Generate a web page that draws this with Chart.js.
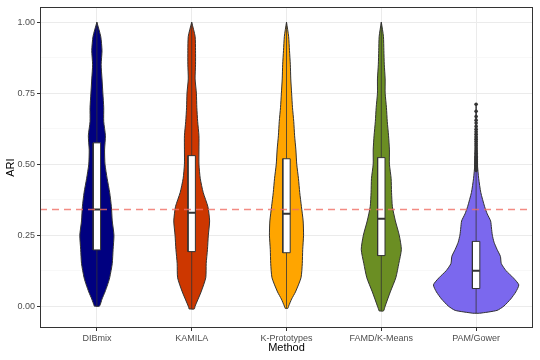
<!DOCTYPE html>
<html>
<head>
<meta charset="utf-8">
<title>ARI by method</title>
<script src="https://cdn.jsdelivr.net/npm/chart.js@4.4.0/dist/chart.umd.min.js"></script>
<style>
  html, body { margin: 0; padding: 0; background: #fff; }
</style>
</head>
<body>
<canvas id="chart" width="540" height="360"></canvas>
<script>
// Categories and colours
const methods = ['DIBmix', 'KAMILA', 'K-Prototypes', 'FAMD/K-Means', 'PAM/Gower'];
const fillColors = ['#000080', '#CD3700', '#FFA500', '#6B8E23', '#7B68EE'];

// Violin outlines: ARI levels and relative density (1 = widest violin)
const dibmixLevels = [0, 0.025, 0.05, 0.075, 0.1, 0.15, 0.2, 0.25, 0.3, 0.35, 0.4, 0.45, 0.5, 0.55, 0.6, 0.65, 0.7, 0.75, 0.8, 0.85, 0.9, 0.95, 1];
const dibmixDensity = [0.06, 0.12, 0.19, 0.25, 0.30, 0.36, 0.38, 0.40, 0.36, 0.34, 0.30, 0.24, 0.19, 0.18, 0.20, 0.16, 0.16, 0.14, 0.12, 0.10, 0.12, 0.09, 0];

const kamilaLevels = [-0.01, 0, 0.05, 0.1, 0.15, 0.2, 0.25, 0.3, 0.35, 0.4, 0.45, 0.5, 0.55, 0.6, 0.65, 0.7, 0.75, 0.8, 0.85, 0.9, 0.95, 1];
const kamilaDensity = [0.06, 0.08, 0.22, 0.33, 0.34, 0.37, 0.39, 0.42, 0.38, 0.27, 0.20, 0.17, 0.17, 0.17, 0.14, 0.12, 0.11, 0.08, 0.09, 0.09, 0.08, 0];

const kprotoLevels = [-0.008, 0, 0.025, 0.05, 0.1, 0.15, 0.2, 0.25, 0.3, 0.35, 0.4, 0.45, 0.5, 0.55, 0.6, 0.65, 0.7, 0.75, 0.8, 0.85, 0.9, 0.95, 1];
const kprotoDensity = [0.03, 0.05, 0.12, 0.21, 0.34, 0.37, 0.38, 0.40, 0.39, 0.35, 0.31, 0.28, 0.24, 0.22, 0.19, 0.17, 0.14, 0.12, 0.10, 0.09, 0.07, 0.05, 0];

const famdLevels = [-0.017, 0, 0.05, 0.1, 0.15, 0.2, 0.25, 0.3, 0.35, 0.4, 0.45, 0.5, 0.55, 0.6, 0.65, 0.7, 0.75, 0.8, 0.85, 0.9, 0.95, 1];
const famdDensity = [0.05, 0.09, 0.21, 0.34, 0.41, 0.47, 0.42, 0.33, 0.26, 0.24, 0.23, 0.19, 0.19, 0.17, 0.14, 0.12, 0.09, 0.09, 0.07, 0.06, 0.05, 0];

const pamLevels = [-0.025, -0.015, 0, 0.025, 0.05, 0.075, 0.1, 0.125, 0.15, 0.175, 0.2, 0.225, 0.25, 0.275, 0.3, 0.325, 0.35, 0.4, 0.45, 0.5, 0.55, 0.6, 0.65, 0.71];
const pamDensity = [0.08, 0.49, 0.65, 0.81, 0.93, 1.0, 0.87, 0.70, 0.59, 0.57, 0.49, 0.42, 0.38, 0.36, 0.34, 0.26, 0.20, 0.11, 0.06, 0.03, 0.02, 0.02, 0.01, 0];

// Boxplot statistics per method
const whiskerLow = [0, -0.01, -0.008, -0.017, -0.025];
const quartile1 = [0.198, 0.192, 0.188, 0.178, 0.062];
const medians = [0.34, 0.329, 0.325, 0.308, 0.125];
const quartile3 = [0.575, 0.530, 0.519, 0.523, 0.228];
const whiskerHigh = [1, 1, 1, 1, 0.476];

// PAM/Gower outliers
const pamOutliers = [0.478, 0.483, 0.488, 0.492, 0.496, 0.5, 0.503, 0.506, 0.51, 0.513, 0.517, 0.52, 0.524,
  0.528, 0.533, 0.538, 0.544, 0.55, 0.557, 0.565, 0.572, 0.58, 0.588, 0.596, 0.605, 0.614, 0.623,
  0.633, 0.645, 0.655, 0.668, 0.686, 0.711];

// Reference line
const referenceAri = 0.34;

const violinLevels = [dibmixLevels, kamilaLevels, kprotoLevels, famdLevels, pamLevels];
const violinDensity = [dibmixDensity, kamilaDensity, kprotoDensity, famdDensity, pamDensity];

const VIOLIN_HALF = 0.45;
const BOX_HALF = 0.039;
const INK = '#333333';
const FONT = "'Liberation Sans', Arial, sans-serif";

Chart.defaults.font.family = FONT;

function violinOutline(center, levels, density) {
  const left = levels.map((y, i) => ({ x: center - density[i] * VIOLIN_HALF, y }));
  const right = levels.map((y, i) => ({ x: center + density[i] * VIOLIN_HALF, y })).reverse();
  const pts = left.concat(right);
  pts.push(pts[0]);
  return pts;
}

const datasets = [];

methods.forEach((m, i) => {
  const c = i + 1;
  datasets.push({
    data: violinOutline(c, violinLevels[i], violinDensity[i]),
    showLine: true, fill: 'shape', tension: 0.2,
    backgroundColor: fillColors[i], borderColor: INK, borderWidth: 1,
    pointRadius: 0, order: 6
  });
  datasets.push({
    data: [{ x: c, y: whiskerLow[i] }, { x: c, y: whiskerHigh[i] }],
    showLine: true, fill: false, borderColor: INK, borderWidth: 0.8,
    pointRadius: 0, order: 5
  });
  datasets.push({
    data: [
      { x: c - BOX_HALF, y: quartile1[i] }, { x: c + BOX_HALF, y: quartile1[i] },
      { x: c + BOX_HALF, y: quartile3[i] }, { x: c - BOX_HALF, y: quartile3[i] },
      { x: c - BOX_HALF, y: quartile1[i] }
    ],
    showLine: true, fill: 'shape', tension: 0,
    backgroundColor: '#FFFFFF', borderColor: INK, borderWidth: 1,
    pointRadius: 0, order: 4
  });
  datasets.push({
    data: [{ x: c - BOX_HALF, y: medians[i] }, { x: c + BOX_HALF, y: medians[i] }],
    showLine: true, fill: false, borderColor: INK, borderWidth: 2,
    pointRadius: 0, order: 3
  });
});

datasets.push({
  data: pamOutliers.map(v => ({ x: 5, y: v })),
  showLine: false, pointRadius: 1.8, pointBackgroundColor: INK, pointBorderWidth: 0,
  order: 2
});

datasets.push({
  data: [{ x: 0.4, y: referenceAri }, { x: 5.6, y: referenceAri }],
  showLine: true, fill: false, borderColor: 'rgba(240,110,100,0.8)', borderWidth: 1.5,
  borderDash: [7, 5], pointRadius: 0, order: 1
});

const isMajor = v => Math.abs(v * 4 - Math.round(v * 4)) < 1e-6;

// white background + panel border like theme_bw
const panelPlugin = {
  id: 'panel',
  beforeDraw(chart) {
    const ctx = chart.ctx;
    ctx.save();
    ctx.fillStyle = '#fff';
    ctx.fillRect(0, 0, chart.width, chart.height);
    ctx.restore();
  },
  afterDraw(chart) {
    const { left, top, right, bottom } = chart.chartArea;
    const ctx = chart.ctx;
    ctx.save();
    ctx.strokeStyle = INK;
    ctx.lineWidth = 1;
    ctx.strokeRect(Math.round(left) + 0.5, Math.round(top) + 0.5, Math.round(right - left) - 1, Math.round(bottom - top) - 1);
    ctx.restore();
  }
};

new Chart(document.getElementById('chart'), {
  type: 'scatter',
  data: { datasets },
  options: {
    responsive: false,
    animation: false,
    events: [],
    layout: { padding: { left: 0, top: 5, right: 7, bottom: 0 } },
    plugins: { legend: { display: false }, tooltip: { enabled: false } },
    scales: {
      x: {
        type: 'linear', min: 0.4, max: 5.6,
        afterBuildTicks: s => { s.ticks = methods.map((m, i) => ({ value: i + 1 })); },
        afterFit: s => { s.height = 32; },
        ticks: {
          callback: v => methods[Math.round(v) - 1],
          font: { size: 9 }, color: '#4D4D4D', padding: 2,
          autoSkip: false, maxRotation: 0
        },
        grid: { color: '#EBEBEB', lineWidth: 1, tickLength: 3, tickColor: INK },
        border: { display: false },
        title: { display: true, text: 'Method', color: '#000', font: { size: 11 }, padding: { top: 0, bottom: 5 } }
      },
      y: {
        type: 'linear', min: -0.077, max: 1.052,
        afterBuildTicks: s => { s.ticks = [0, 0.125, 0.25, 0.375, 0.5, 0.625, 0.75, 0.875, 1].map(v => ({ value: v })); },
        afterFit: s => { s.width = 40; },
        ticks: {
          callback: v => (isMajor(v) ? v.toFixed(2) : ''),
          font: { size: 9 }, color: '#4D4D4D', padding: 2, autoSkip: false
        },
        grid: {
          color: ctx => (ctx.tick && isMajor(ctx.tick.value) ? '#EBEBEB' : '#F3F3F3'),
          lineWidth: ctx => (ctx.tick && isMajor(ctx.tick.value) ? 1 : 0.6),
          tickLength: 3,
          tickColor: ctx => (ctx.tick && isMajor(ctx.tick.value) ? INK : 'rgba(0,0,0,0)')
        },
        border: { display: false },
        title: { display: true, text: 'ARI', color: '#000', font: { size: 11 }, padding: { top: 4, bottom: 0 } }
      }
    }
  },
  plugins: [panelPlugin]
});
</script>
</body>
</html>
